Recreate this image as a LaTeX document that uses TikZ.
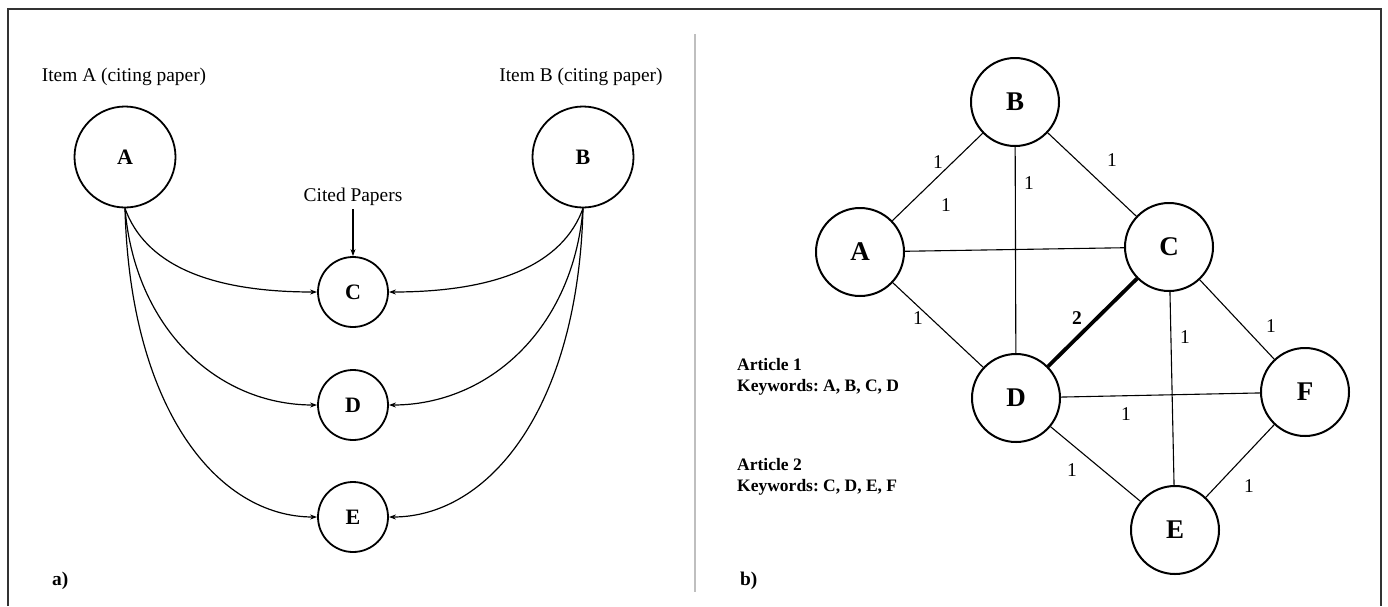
\documentclass[tikz,border=0pt]{standalone}
\usepackage{fontspec}
\setmainfont{Liberation Serif}
\usetikzlibrary{arrows.meta}
\frenchspacing
\begin{document}
\begin{tikzpicture}[x=1pt,y=-1pt,
  lnode/.style={circle,draw,line width=1.8pt,minimum size=101pt,inner sep=0pt,font=\fontsize{22}{24}\selectfont\bfseries},
  snode/.style={circle,draw,line width=1.8pt,minimum size=70pt,inner sep=0pt,font=\fontsize{22}{24}\selectfont\bfseries},
  rnode/.style={circle,draw,line width=2pt,minimum size=88pt,inner sep=0pt,font=\fontsize{27}{30}\selectfont\bfseries},
  cite/.style={-{Stealth[length=7pt,width=5pt]},line width=1.2pt},
  edgeline/.style={line width=1.1pt},
  txt/.style={font=\fontsize{19.4}{22}\selectfont,inner sep=0pt},
  wlab/.style={font=\fontsize{19.5}{22}\selectfont,inner sep=0pt},
  btxt/.style={font=\fontsize{17.5}{21}\selectfont\bfseries,inner sep=0pt,anchor=west},
]
\useasboundingbox (0,0) rectangle (1388,606);
% frame and divider
\draw[line width=2.2pt,black!80] (8,606) -- (8,9) -- (1381,9) -- (1381,606);
\draw[line width=2pt,black!25] (695,34) -- (695,592);

% ---- panel a ----
\node[txt] (ta) at (124,77) {Item A (citing paper)};
\node[txt] (tb) at (581,77) {Item B (citing paper)};
\node[lnode] (lA) at (125,157) {A};
\node[lnode] (lB) at (583,157) {B};
\node[snode] (lC) at (353,292) {C};
\node[snode] (lD) at (353,405) {D};
\node[snode] (lE) at (353,517) {E};
\node[txt] (cp) at (353,197) {Cited Papers};
\draw[cite] (cp.south) ++(0,3) coordinate (cps) -- (lC.north);
\draw[cite] (lA.south) .. controls +(20,55) and +(-110,0) .. (lC.west);
\draw[cite] (lA.south) .. controls +(10,120) and +(-100,0) .. (lD.west);
\draw[cite] (lA.south) .. controls +(5,200) and +(-100,0) .. (lE.west);
\draw[cite] (lB.south) .. controls +(-20,55) and +(110,0) .. (lC.east);
\draw[cite] (lB.south) .. controls +(-10,120) and +(100,0) .. (lD.east);
\draw[cite] (lB.south) .. controls +(-5,200) and +(100,0) .. (lE.east);
\node[font=\fontsize{19.4}{22}\selectfont\bfseries,inner sep=0pt,anchor=west] (la) at (52,581) {a)};

% ---- panel b ----
\node[rnode] (rB) at (1015,102) {B};
\node[rnode] (rA) at (860,252) {A};
\node[rnode] (rC) at (1169,247) {C};
\node[rnode] (rD) at (1016,398) {D};
\node[rnode] (rF) at (1305,392) {F};
\node[rnode] (rE) at (1175,530) {E};
\draw[edgeline] (rA) -- (rB);
\draw[edgeline] (rB) -- (rC);
\draw[edgeline] (rB) -- (rD);
\draw[edgeline] (rA) -- (rC);
\draw[edgeline] (rA) -- (rD);
\draw[line width=3.8pt] (rC) -- (rD);
\draw[edgeline] (rC) -- (rF);
\draw[edgeline] (rC) -- (rE);
\draw[edgeline] (rD) -- (rF);
\draw[edgeline] (rD) -- (rE);
\draw[edgeline] (rE) -- (rF);
\node[wlab] (w1) at (938,162) {1};
\node[wlab] (w2) at (1112,160) {1};
\node[wlab] (w3) at (1029,183) {1};
\node[wlab] (w4) at (946,205) {1};
\node[wlab] (w5) at (918,318) {1};
\node[font=\fontsize{19.5}{22}\selectfont\bfseries,inner sep=0pt] (w6) at (1077,318) {2};
\node[wlab] (w7) at (1271,326) {1};
\node[wlab] (w8) at (1185,337) {1};
\node[wlab] (w9) at (1126,414) {1};
\node[wlab] (w10) at (1072,470) {1};
\node[wlab] (w11) at (1249,486) {1};
\node[btxt] (a1) at (737,365) {Article 1};
\node[btxt] (k1) at (737,387) {Keywords: A, B, C, D};
\node[btxt] (a2) at (737,465) {Article 2};
\node[btxt] (k2) at (737,487) {Keywords: C, D, E, F};
\node[font=\fontsize{19.4}{22}\selectfont\bfseries,inner sep=0pt,anchor=west] (lb) at (740,581) {b)};
\end{tikzpicture}
\end{document}
